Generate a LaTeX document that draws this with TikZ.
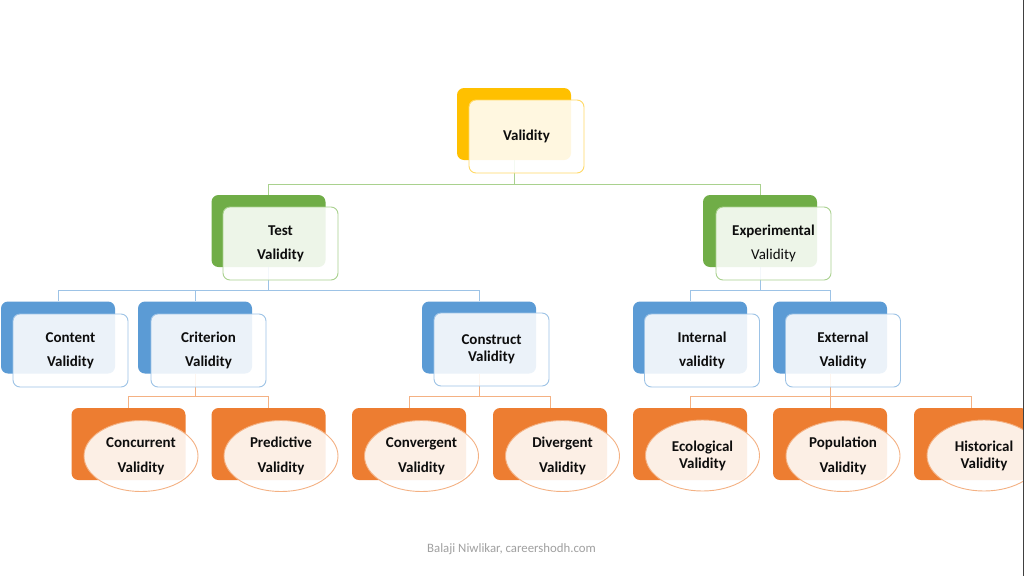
\documentclass[tikz,border=0pt]{standalone}
\usepackage{fontspec}
\setmainfont{Carlito}
\usetikzlibrary{shapes.geometric}
\definecolor{yback}{HTML}{FFC000}
\definecolor{yline}{HTML}{FFD966}
\definecolor{gback}{HTML}{70AD47}
\definecolor{gline}{HTML}{A9D18E}
\definecolor{bback}{HTML}{5B9BD5}
\definecolor{bline}{HTML}{9DC3E6}
\definecolor{oback}{HTML}{ED7D31}
\definecolor{oline}{HTML}{F4B183}
\definecolor{txt}{HTML}{0D0D0D}
\definecolor{foot}{HTML}{A0A0A0}
\definecolor{edge}{HTML}{404040}
\begin{document}
\begin{tikzpicture}[x=1pt,y=-1pt,
 backbox/.style={draw=none, fill=#1, rounded corners=7pt, minimum width=114pt, minimum height=72pt, inner sep=0pt},
 frontbox/.style={draw=#1, line width=0.9pt, fill=white, fill opacity=0.88, text opacity=1, rounded corners=7pt, minimum width=115pt, minimum height=73pt, inner sep=0pt, align=center, text=txt, font=\fontsize{15}{24}\selectfont\bfseries},
 frontell/.style={ellipse, draw=oline, line width=0.9pt, fill=white, fill opacity=0.88, text opacity=1, minimum width=114pt, minimum height=71pt, inner sep=0pt, align=center, text=txt, font=\fontsize{15}{25}\selectfont\bfseries},
 tight/.style={font=\fontsize{15}{17}\selectfont\bfseries},
 conn/.style={draw=#1, line width=0.9pt}]
\useasboundingbox (0,0) rectangle (1024,576);
\clip (0,0) rectangle (1024,576);
\fill[white] (0,0) rectangle (1024,576);

% back shapes
\node[backbox=yback] (bval) at (514,124) {};
\node[backbox=gback] (btest) at (268.5,231) {};
\node[backbox=gback] (bexp) at (760,231) {};
\node[backbox=bback] (bcont) at (58,337.5) {};
\node[backbox=bback] (bcrit) at (195,337.5) {};
\node[backbox=bback] (bcons) at (479,337.5) {};
\node[backbox=bback] (bint) at (690,337.5) {};
\node[backbox=bback] (bext) at (830,337.5) {};
\node[backbox=oback] (bconc) at (128.5,444) {};
\node[backbox=oback] (bpred) at (268.5,444) {};
\node[backbox=oback] (bconv) at (409,444) {};
\node[backbox=oback] (bdiv) at (550,444) {};
\node[backbox=oback] (beco) at (690,444) {};
\node[backbox=oback] (bpop) at (830,444) {};
\node[backbox=oback] (bhist) at (971,444) {};

% connectors
\draw[conn=gline] (bval.south) -- ++(0,24) -| (btest.north);
\draw[conn=gline] (bval.south) -- ++(0,24) -| (bexp.north);
\draw[conn=bline] (btest.south) -- ++(0,23) -| (bcont.north);
\draw[conn=bline] (btest.south) -- ++(0,23) -| (bcrit.north);
\draw[conn=bline] (btest.south) -- ++(0,23) -| (bcons.north);
\draw[conn=bline] (bexp.south) -- ++(0,23) -| (bint.north);
\draw[conn=bline] (bexp.south) -- ++(0,23) -| (bext.north);
\draw[conn=oline] (bcrit.south) -- ++(0,22.5) -| (bconc.north);
\draw[conn=oline] (bcrit.south) -- ++(0,22.5) -| (bpred.north);
\draw[conn=oline] (bcons.south) -- ++(0,22.5) -| (bconv.north);
\draw[conn=oline] (bcons.south) -- ++(0,22.5) -| (bdiv.north);
\draw[conn=oline] (bext.south) -- ++(0,22.5) -| (beco.north);
\draw[conn=oline] (bext.south) -- ++(0,22.5) -| (bpop.north);
\draw[conn=oline] (bext.south) -- ++(0,22.5) -| (bhist.north);

% front shapes
\node[frontbox=yline] (val) at (526.5,136.5) {Validity};
\node[frontbox=gline] (test) at (280.5,243.5) {Test\\Validity};
\node[frontbox=gline] (exp) at (773.5,243.5) {Experimental\\\mdseries Validity};
\node[frontbox=bline] (cont) at (70.5,350.5) {Content\\Validity};
\node[frontbox=bline] (crit) at (208.5,350.5) {Criterion\\Validity};
\node[frontbox=bline, tight] (cons) at (491.5,349.5) {Construct\\Validity};
\node[frontbox=bline] (int) at (702,350.5) {Internal\\validity};
\node[frontbox=bline] (ext) at (843,350.5) {External\\Validity};
\node[frontell] (conc) at (141,456) {Concurrent\\Validity};
\node[frontell] (pred) at (281,456) {Predictive\\Validity};
\node[frontell] (conv) at (421.5,456) {Convergent\\Validity};
\node[frontell] (div) at (562.5,456) {Divergent\\Validity};
\node[frontell, tight] (eco) at (702.5,455.5) {Ecological\\Validity};
\node[frontell] (pop) at (843,456) {Population\\Validity};
\node[frontell, tight] (hist) at (984,455.5) {Historical\\Validity};

% footer
\node[text=foot, font=\fontsize{12.8}{15}\selectfont] (footer) at (511.5,549) {Balaji Niwlikar, careershodh.com};

% right edge
\coordinate (et) at (1023.5,0);
\coordinate (eb) at (1023.5,576);
\draw[edge, line width=1pt] (et) -- (eb);
\end{tikzpicture}
\end{document}
